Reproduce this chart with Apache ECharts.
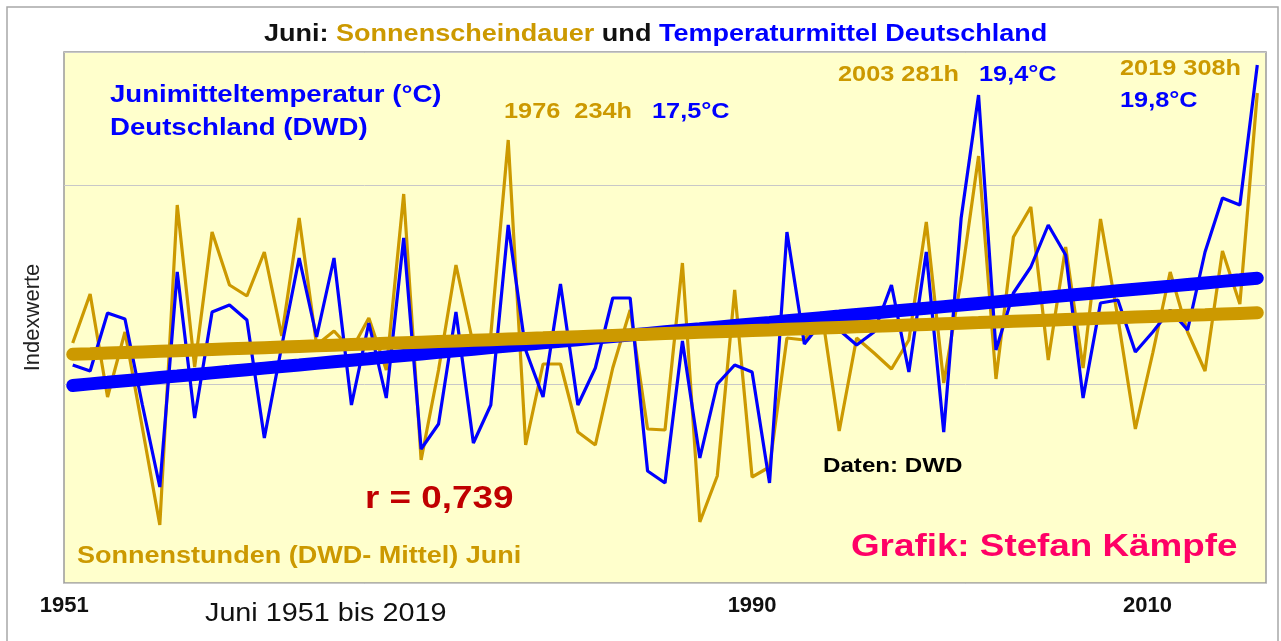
<!DOCTYPE html>
<html>
<head>
<meta charset="utf-8">
<title>Juni: Sonnenscheindauer und Temperaturmittel Deutschland</title>
<script src="https://cdn.jsdelivr.net/npm/echarts@6.0.0/dist/echarts.min.js"></script>
<style>
    html, body { margin: 0; padding: 0; background: #fff; }
    #chart { width: 1281px; height: 641px; }
</style>
</head>
<body>
<div id="chart"></div>
<script>
// Jahre 1951 .. 2019 (Kategorien)
const years = [];
for (let y = 1951; y <= 2019; y++) years.push(String(y));

// Sonnenscheindauer Juni, Indexwerte
const sonne = [
    240, 289, 186, 251, 155, 58, 378, 216, 351, 298,
    287, 331, 247, 365, 238, 252, 233, 265, 213, 389,
    123, 213, 318, 238, 248, 443, 138, 219, 219, 151,
    138, 215, 273, 154, 153, 320, 61, 107, 293, 106,
    116, 245, 243, 271, 152, 245, 230, 214, 243, 361,
    200, 303, 427, 204, 346, 376, 223, 336, 215, 364,
    265, 154, 230, 311, 251, 212, 332, 279, 490
];

// Junimitteltemperatur Deutschland, Indexwerte
const temp = [
    218, 212, 270, 264, 178, 96, 311, 165, 271, 278,
    263, 145, 237, 325, 246, 325, 178, 260, 185, 345,
    134, 159, 271, 140, 178, 358, 233, 186, 299, 178,
    215, 285, 285, 112, 100, 242, 125, 199, 218, 211,
    100, 351, 239, 261, 253, 238, 251, 298, 211, 331,
    151, 365, 488, 233, 290, 316, 358, 328, 185, 280,
    283, 231, 251, 273, 253, 331, 385, 378, 518
];

// beschriftete Jahre der x-Achse
const tickYears = ['1951', '1990', '2010'];

const FONT = '"Liberation Sans", Arial, sans-serif';
const GOLD = '#CC9900';
const BLUE = '#0000FF';
const STRETCH = 1.15; // Schrift im Original etwas breit gezogen

// lineare Trendlinie (kleinste Quadrate)
function trend(values) {
    const n = values.length;
    let sx = 0, sy = 0, sxy = 0, sxx = 0;
    values.forEach((v, i) => { sx += i; sy += v; sxy += i * v; sxx += i * i; });
    const b = (n * sxy - sx * sy) / (n * sxx - sx * sx);
    const a = (sy - b * sx) / n;
    return values.map((v, i) => +(a + b * i).toFixed(2));
}

function label(text, x, y, size, color, weight) {
    return {
        type: 'text', x: x, y: y, scaleX: STRETCH, z: 100, silent: true,
        style: {
            text: text, fill: color, fontSize: size, fontWeight: weight || 'bold',
            fontFamily: FONT, align: 'left', verticalAlign: 'middle',
            textAlign: 'left', textVerticalAlign: 'middle'
        }
    };
}

const tickRich = {
    y1951: { padding: [0, 17, 0, 0] },
    y1990: { padding: [0, 0, 0, 0] },
    y2010: { padding: [0, 0, 0, 94] }
};

const myChart = echarts.init(document.getElementById('chart'));
const option = {
    animation: false,
    backgroundColor: '#fff',
    grid: {
        left: 64, right: 15, top: 52, bottom: 58,
        show: true,
        backgroundColor: '#FFFFCC',
        borderColor: '#9A9A9A',
        borderWidth: 1.5
    },
    xAxis: {
        type: 'category',
        data: years,
        boundaryGap: true,
        axisLine: { show: false },
        axisTick: { show: false },
        splitLine: { show: false },
        axisLabel: {
            interval: (idx, val) => tickYears.includes(val),
            margin: 12,
            fontSize: 22,
            fontWeight: 'bold',
            color: '#111',
            fontFamily: FONT,
            formatter: v => '{y' + v + '|' + v + '}',
            rich: tickRich
        }
    },
    yAxis: {
        type: 'value',
        min: 0, max: 531, interval: 199,
        axisLine: { show: false },
        axisTick: { show: false },
        axisLabel: { show: false },
        splitLine: { lineStyle: { color: '#C8C8C8', width: 1 } },
        name: 'Indexwerte',
        nameLocation: 'middle',
        nameRotate: 90,
        nameGap: 20,
        nameTextStyle: { fontSize: 22, color: '#222', fontFamily: FONT }
    },
    series: [
        {
            name: 'Sonnenstunden', type: 'line', data: sonne, z: 2,
            symbol: 'none', color: GOLD,
            lineStyle: { color: GOLD, width: 3.2 }
        },
        {
            name: 'Temperatur', type: 'line', data: temp, z: 3,
            symbol: 'none', color: BLUE,
            lineStyle: { color: BLUE, width: 3.2 }
        },
        {
            name: 'Trend Temperatur', type: 'line', data: trend(temp), z: 4,
            symbol: 'none', color: BLUE,
            lineStyle: { color: BLUE, width: 13, cap: 'round' }
        },
        {
            name: 'Trend Sonne', type: 'line', data: trend(sonne), z: 5,
            symbol: 'none', color: GOLD,
            lineStyle: { color: GOLD, width: 13, cap: 'round' }
        }
    ],
    graphic: [
        {
            type: 'rect', z: 0, silent: true,
            shape: { x: 7, y: 7, width: 1271, height: 700 },
            style: { fill: 'none', stroke: '#A8A8A8', lineWidth: 1.5 }
        },
        {
            type: 'text', x: 264, y: 35, scaleX: STRETCH, z: 100, silent: true,
            style: {
                text: '{k|Juni: }{g|Sonnenscheindauer}{k| und }{b|Temperaturmittel Deutschland}',
                fontSize: 23.5, fontWeight: 'bold', fontFamily: FONT,
                verticalAlign: 'middle', textVerticalAlign: 'middle',
                rich: {
                    k: { fill: '#111', color: '#111', fontSize: 23.5, fontWeight: 'bold', fontFamily: FONT },
                    g: { fill: GOLD, color: GOLD, fontSize: 23.5, fontWeight: 'bold', fontFamily: FONT },
                    b: { fill: BLUE, color: BLUE, fontSize: 23.5, fontWeight: 'bold', fontFamily: FONT }
                }
            }
        },
        label('Junimitteltemperatur (°C)', 110, 95, 24, BLUE),
        label('Deutschland (DWD)', 110, 128, 24, BLUE),
        label('1976  234h', 504, 112, 22, GOLD),
        label('17,5°C', 652, 112, 22, BLUE),
        label('2003 281h', 838, 75, 22, GOLD),
        label('19,4°C', 979, 75, 22, BLUE),
        label('2019 308h', 1120, 69, 22, GOLD),
        label('19,8°C', 1120, 101, 22, BLUE),
        label('r = 0,739', 365, 499, 32, '#C00000'),
        label('Daten: DWD', 823, 466, 21, '#000'),
        label('Sonnenstunden (DWD- Mittel) Juni', 77, 557, 23.5, GOLD),
        label('Grafik: Stefan Kämpfe', 851, 547, 32, '#FF0066'),
        label('Juni 1951 bis 2019', 205, 614, 25, '#111', 'normal')
    ]
};
myChart.setOption(option);
</script>
</body>
</html>
